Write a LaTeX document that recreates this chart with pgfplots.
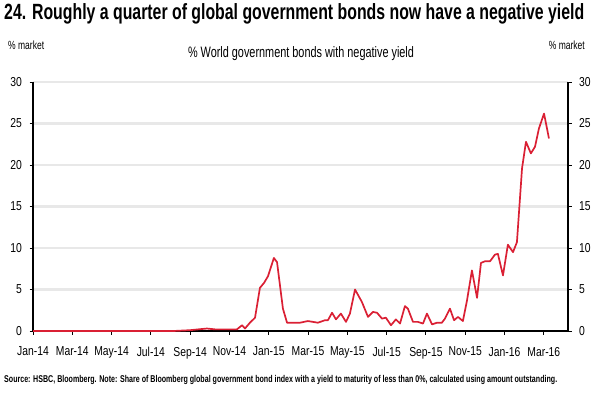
\documentclass[border=0pt]{standalone}
\usepackage{fontspec}
\setmainfont[FakeStretch=0.72]{Liberation Sans}
\newfontfamily\tickfont[FakeStretch=0.8]{Liberation Sans}
\usepackage{pgfplots}
\pgfplotsset{compat=1.18}
\definecolor{linered}{RGB}{218,32,52}
\definecolor{gridgrey}{RGB}{232,232,232}
\pgfplotstableread{
m v
0 0
2 0
4 0
6 0
7.12 0
7.99 0.1
8.85 0.3
9.26 0.2
10.03 0.2
10.38 0.2
10.64 0.7
10.79 0.3
11.04 1.0
11.30 1.6
11.55 5.2
11.76 5.8
11.96 6.6
12.26 8.8
12.42 8.3
12.72 2.7
12.93 1.0
13.38 1.0
13.59 1.0
13.79 1.1
13.99 1.2
14.25 1.1
14.50 1.0
14.86 1.3
15.01 1.3
15.22 2.2
15.42 1.4
15.67 2.1
15.93 1.1
16.13 2.1
16.39 5.0
16.74 3.5
17.05 1.7
17.30 2.3
17.51 2.2
17.76 1.5
17.96 1.6
18.22 0.7
18.47 1.4
18.68 0.9
18.93 3.0
19.08 2.7
19.34 1.1
19.59 1.1
19.85 0.9
20.05 2.1
20.31 0.8
20.56 1.0
20.81 1.0
20.97 1.5
21.22 2.7
21.43 1.3
21.63 1.7
21.88 1.2
22.09 3.7
22.34 7.3
22.60 4.0
22.80 8.2
23.00 8.4
23.26 8.4
23.51 9.2
23.66 9.3
23.92 6.7
24.17 10.4
24.43 9.5
24.63 10.7
24.89 19.6
25.09 22.8
25.34 21.4
25.55 22.2
25.75 24.4
26.01 26.2
26.26 23.2
}\datatable
\begin{document}
\begin{tikzpicture}[x=1bp,y=1bp]
\path[use as bounding box] (0,0) rectangle (600,-395);
\pgfplotsset{
  commonaxis/.style={
    at={(33bp,-331bp)}, anchor=south west,
    width=535bp, height=249bp, scale only axis,
    xmin=0, xmax=27.23, ymin=0, ymax=30,
    ytick={0,5,...,30},
    tick align=outside,
    major tick length=3.5bp,
    tick style={black, line width=1bp},
    /pgf/number format/assume math mode=true,
    ticklabel style={font=\tickfont\fontsize{13}{14}\selectfont},
  }
}
\begin{axis}[commonaxis,
    axis x line*=bottom, axis y line*=left,
    axis line style={black, line width=1.3bp},
    xtick={0,2,...,26},
    xticklabels={Jan-14,Mar-14,May-14,Jul-14,Sep-14,Nov-14,Jan-15,Mar-15,May-15,Jul-15,Sep-15,Nov-15,Jan-16,Mar-16},
    xticklabel style={yshift=-9bp},
    yticklabel style={xshift=-4bp},
    ymajorgrids, grid style={gridgrey, line width=2.2bp},
  ]
  \addplot[linered, line width=1.7bp, line join=round] table[x=m,y=v]{\datatable};
\end{axis}
\begin{axis}[commonaxis,
    axis x line=none, axis y line*=right,
    axis line style={black, line width=1.3bp},
    yticklabel style={xshift=4bp},
  ]
  \addplot[draw=none] coordinates {(0,0)};
\end{axis}
\node[anchor=base west, inner sep=0] at (4,-19) {\resizebox{580bp}{!}{\bfseries 24. Roughly a quarter of global government bonds now have a negative yield}};
\node[anchor=west, inner sep=0] at (8,-45) {\resizebox{36bp}{!}{\% market}};
\node[anchor=east, inner sep=0] at (585,-45) {\resizebox{36bp}{!}{\% market}};
\node[anchor=center, inner sep=0] at (301,-54) {\resizebox{226bp}{!}{\% World government bonds with negative yield}};
\node[anchor=west, inner sep=0] at (4,-380) {\resizebox{553bp}{!}{\bfseries Source: HSBC, Bloomberg. Note: Share of Bloomberg global government bond index with a yield to maturity of less than 0\%, calculated using amount outstanding.}};
\end{tikzpicture}
\end{document}
